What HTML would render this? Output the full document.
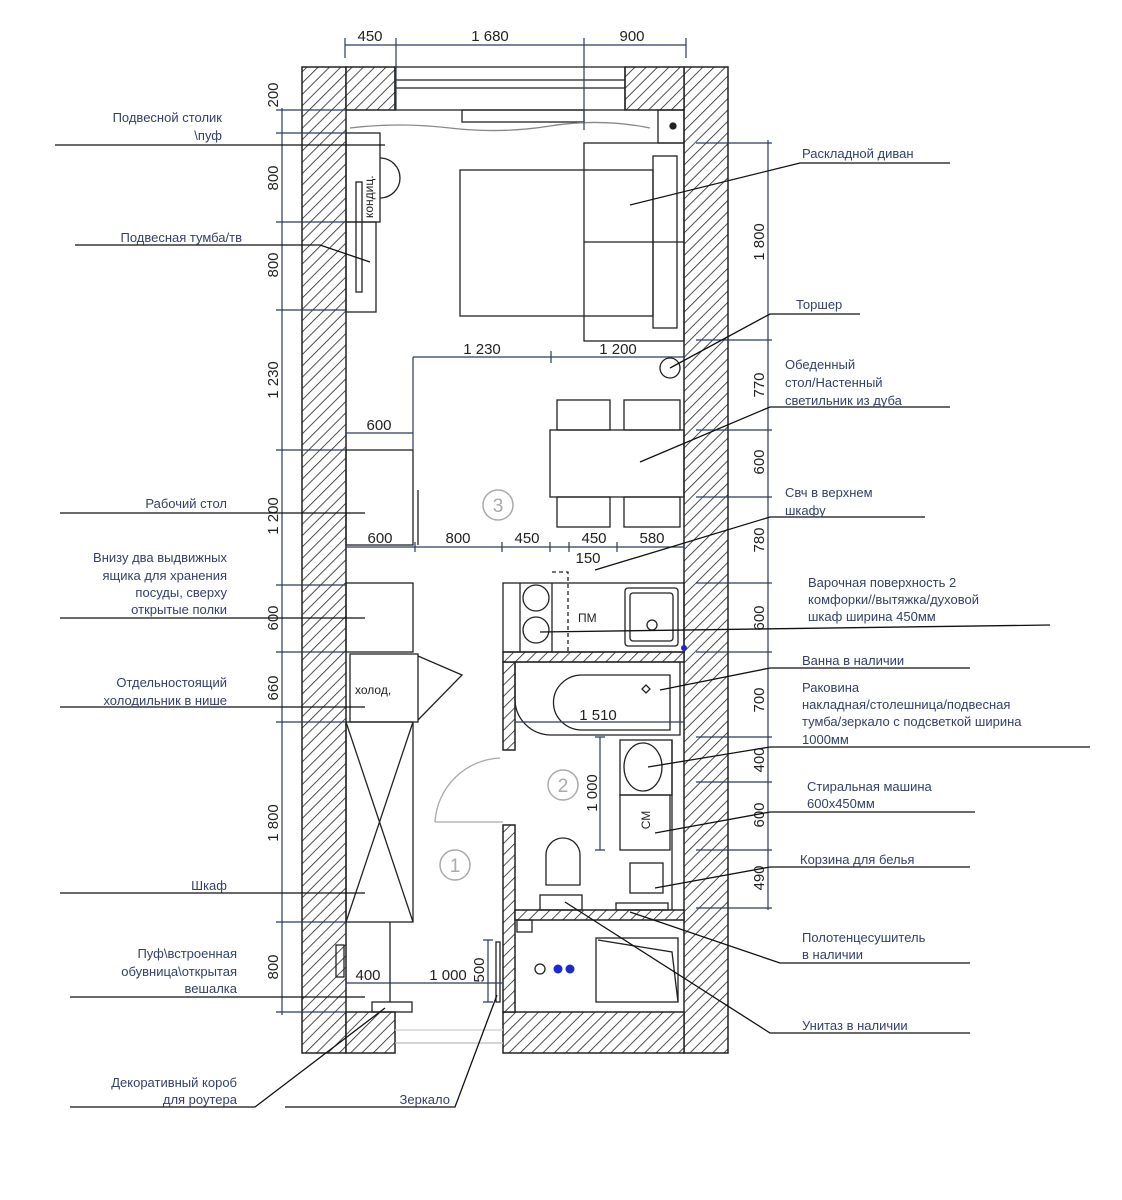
<!DOCTYPE html>
<html><head><meta charset="utf-8"><style>
html,body{margin:0;padding:0;background:#fff}
svg{display:block}
text{font-family:"Liberation Sans",sans-serif}
.l{font-size:13px;fill:#34406a}
.d{font-size:15px;fill:#222}
</style></head><body>
<svg width="1122" height="1200" viewBox="0 0 1122 1200" xmlns="http://www.w3.org/2000/svg">
<defs>
<pattern id="h" width="8" height="8" patternUnits="userSpaceOnUse" patternTransform="rotate(45)">
<rect width="8" height="8" fill="#fff"/><line x1="0" y1="0" x2="0" y2="8" stroke="#222" stroke-width="1.6"/>
</pattern>
</defs>
<g stroke="#222" stroke-width="1.5" fill="url(#h)">
<rect x="302" y="67" width="44" height="986"/>
<rect x="684" y="67" width="44" height="986"/>
<rect x="346" y="67" width="49" height="43"/>
<rect x="625" y="67" width="59" height="43"/>
<rect x="346" y="1012" width="49" height="41"/>
<rect x="503" y="1012" width="181" height="41"/>
<rect x="503" y="825" width="12" height="187"/>
<rect x="503" y="662" width="12" height="88"/>
<rect x="503" y="652" width="181" height="10"/>
<rect x="515" y="910" width="169" height="10"/>
</g>
<g stroke="#222" stroke-width="1.3" fill="none">
<rect x="395" y="67" width="230" height="43"/>
<line x1="395" y1="80" x2="625" y2="80"/><line x1="395" y1="88" x2="625" y2="88"/>
<rect x="462" y="110" width="122" height="12"/>
<path d="M350 128 Q400 122 450 128 T550 126 T650 128" stroke="#888"/>
<rect x="658" y="110" width="26" height="33"/><circle cx="673" cy="126" r="3" fill="#222"/>
<line x1="395" y1="1043" x2="503" y2="1043" stroke="#bbb"/>
<line x1="395" y1="1030" x2="503" y2="1030" stroke="#ccc"/>
<rect x="584" y="143" width="100" height="198"/>
<rect x="653" y="156" width="24" height="172"/>
<line x1="584" y1="242" x2="684" y2="242"/>
<rect x="460" y="170" width="193" height="146"/>
<rect x="346" y="133" width="34" height="89"/>
<path d="M380 158 A20 20 0 0 1 380 198"/>
<rect x="346" y="222" width="30" height="90"/>
<rect x="356" y="182" width="6" height="110"/>
<text x="373" y="218" transform="rotate(-90 373 218)" style="font-size:12px;fill:#222;stroke:none">кондиц.</text>
<circle cx="670" cy="368" r="10"/>
<rect x="550" y="430" width="134" height="67"/>
<rect x="557" y="400" width="53" height="30"/><rect x="624" y="400" width="56" height="30"/>
<rect x="557" y="497" width="53" height="30"/><rect x="624" y="497" width="56" height="30"/>
<rect x="346" y="450" width="67" height="95"/>
<line x1="418" y1="490" x2="418" y2="545"/>
<rect x="346" y="583" width="67" height="69"/>
<rect x="350" y="654" width="68" height="68"/>
<text x="355" y="694" style="font-size:12px;fill:#222;stroke:none">холод,</text>
<path d="M418 656 L462 675 L418 720"/>
<rect x="346" y="722" width="67" height="200"/>
<path d="M346 722 L413 922 M413 722 L346 922"/>
<line x1="390" y1="922" x2="390" y2="1002"/>
<rect x="336" y="945" width="8" height="32"/>
<rect x="372" y="1002" width="40" height="10"/>
<rect x="503" y="583" width="181" height="69"/>
<line x1="520" y1="583" x2="520" y2="652"/><line x1="552" y1="583" x2="552" y2="652"/>
<path d="M552 572 L568 572 L568 652" stroke-dasharray="4 3"/>
<circle cx="536" cy="598" r="13"/><circle cx="536" cy="630" r="13"/>
<text x="578" y="622" style="font-size:12px;fill:#222;stroke:none">ПМ</text>
<rect x="625" y="588" width="53" height="58" rx="3"/><rect x="630" y="593" width="43" height="48" rx="3"/>
<circle cx="652" cy="625" r="5"/>
<circle cx="684" cy="648" r="3" fill="#1a2ad0" stroke="none"/>
<path d="M515 662 L680 662 L680 735 L550 735 A36 36 0 0 1 515 700 Z"/>
<path d="M582 675 L670 675 L670 730 L582 730 A28 27 0 0 1 582 675 Z"/>
<path d="M646 685 l4 4 l-4 4 l-4 -4 Z"/>
<rect x="620" y="740" width="52" height="55"/>
<ellipse cx="643" cy="767" rx="19" ry="24"/>
<rect x="620" y="795" width="50" height="55"/>
<text x="650" y="820" transform="rotate(-90 650 820)" text-anchor="middle" style="font-size:12px;fill:#222;stroke:none">СМ</text>
<line x1="672" y1="740" x2="672" y2="910"/>
<rect x="630" y="863" width="33" height="30"/>
<rect x="616" y="903" width="52" height="7"/>
<path d="M546 885 L546 855 A17 17 0 0 1 580 855 L580 885 Z"/>
<rect x="540" y="895" width="42" height="15"/>
<rect x="596" y="938" width="82" height="64"/>
<path d="M598 940 L672 952 L678 1002"/>
<circle cx="540" cy="969" r="5"/>
<circle cx="558" cy="969" r="4.5" fill="#1a2ad0" stroke="none"/><circle cx="570" cy="969" r="4.5" fill="#1a2ad0" stroke="none"/>
<rect x="517" y="920" width="15" height="12"/>
<rect x="496" y="942" width="4" height="60"/>
<path d="M435 822 A68 68 0 0 1 500 758" stroke="#aaa"/>
<line x1="435" y1="822" x2="503" y2="822" stroke="#aaa"/>
</g>
<g stroke="#aaa" stroke-width="1.5" fill="none">
<circle cx="455" cy="865" r="15"/><circle cx="563" cy="785" r="15"/><circle cx="498" cy="505" r="15"/>
</g>
<g font-size="19" fill="#aaa" text-anchor="middle">
<text x="455" y="872">1</text><text x="563" y="792">2</text><text x="498" y="512">3</text>
</g>
<g stroke="#2a3a60" stroke-width="1.2" fill="none">
<line x1="345" y1="45" x2="686" y2="45"/>
<path d="M345 38v20M396 38v72M584 38v92M686 38v20"/>
<line x1="282" y1="108" x2="282" y2="1015"/>
<path d="M276 110h70M276 133h70M276 222h70M276 310h70M276 450h70M276 585h70M276 652h70M276 722h70M276 922h70M276 1012h70"/>
<line x1="768" y1="140" x2="768" y2="910"/>
<path d="M696 143h76M696 340h76M696 430h76M696 497h76M696 583h76M696 652h76M696 737h76M696 782h76M696 850h76M696 908h76"/>
<line x1="413" y1="357" x2="684" y2="357"/><line x1="413" y1="357" x2="413" y2="450"/>
<path d="M551 351v12M684 351v12"/>
<line x1="346" y1="433" x2="413" y2="433"/>
<line x1="346" y1="547" x2="684" y2="547"/>
<path d="M415 542v10M502 542v10M550 542v10M569 542v10M617 542v10M684 542v10"/>
<line x1="515" y1="722" x2="684" y2="722"/>
<line x1="600" y1="737" x2="600" y2="850"/><path d="M595 737h10M595 850h10"/>
<line x1="346" y1="983" x2="503" y2="983"/><path d="M390 978v10"/>
<line x1="488" y1="940" x2="488" y2="1002"/><path d="M483 940h10M483 1002h10"/>
</g>
<g class="d">
<text x="370" y="41" text-anchor="middle">450</text>
<text x="490" y="41" text-anchor="middle">1 680</text>
<text x="632" y="41" text-anchor="middle">900</text>
<text x="482" y="354" text-anchor="middle">1 230</text>
<text x="618" y="354" text-anchor="middle">1 200</text>
<text x="379" y="430" text-anchor="middle">600</text>
<text x="380" y="543" text-anchor="middle">600</text>
<text x="458" y="543" text-anchor="middle">800</text>
<text x="527" y="543" text-anchor="middle">450</text>
<text x="594" y="543" text-anchor="middle">450</text>
<text x="652" y="543" text-anchor="middle">580</text>
<text x="588" y="563" text-anchor="middle">150</text>
<text x="598" y="720" text-anchor="middle">1 510</text>
<text x="368" y="980" text-anchor="middle">400</text>
<text x="448" y="980" text-anchor="middle">1 000</text>
<g text-anchor="middle">
<text transform="translate(278 95) rotate(-90)">200</text>
<text transform="translate(278 178) rotate(-90)">800</text>
<text transform="translate(278 265) rotate(-90)">800</text>
<text transform="translate(278 380) rotate(-90)">1 230</text>
<text transform="translate(278 516) rotate(-90)">1 200</text>
<text transform="translate(278 618) rotate(-90)">600</text>
<text transform="translate(278 688) rotate(-90)">660</text>
<text transform="translate(278 823) rotate(-90)">1 800</text>
<text transform="translate(278 967) rotate(-90)">800</text>
<text transform="translate(764 242) rotate(-90)">1 800</text>
<text transform="translate(764 385) rotate(-90)">770</text>
<text transform="translate(764 462) rotate(-90)">600</text>
<text transform="translate(764 540) rotate(-90)">780</text>
<text transform="translate(764 618) rotate(-90)">600</text>
<text transform="translate(764 700) rotate(-90)">700</text>
<text transform="translate(764 760) rotate(-90)">400</text>
<text transform="translate(764 815) rotate(-90)">600</text>
<text transform="translate(764 878) rotate(-90)">490</text>
<text transform="translate(597 793) rotate(-90)">1 000</text>
<text transform="translate(484 970) rotate(-90)">500</text>
</g>
</g>
<g stroke="#111" stroke-width="1.3" fill="none">
<path d="M55 145H385"/>
<path d="M75 245H320L370 262"/>
<path d="M60 513H365"/>
<path d="M60 618H365"/>
<path d="M60 707H365"/>
<path d="M60 893H365"/>
<path d="M70 997H365"/>
<path d="M70 1107H255L385 1008"/>
<path d="M285 1107H455L497 995"/>
<path d="M630 205L800 163H950"/>
<path d="M670 368L770 314H860"/>
<path d="M640 462L770 407H950"/>
<path d="M595 570L770 517H925"/>
<path d="M540 632L1050 625"/>
<path d="M660 690L770 668H970"/>
<path d="M648 767L770 747H1090"/>
<path d="M655 833L770 812H975"/>
<path d="M655 888L770 867H970"/>
<path d="M630 912L780 963H970"/>
<path d="M565 902L770 1033H970"/>
</g>
<g class="l" text-anchor="end">
<text x="222" y="122">Подвесной столик</text><text x="222" y="140">\пуф</text>
<text x="242" y="242">Подвесная тумба/тв</text>
<text x="227" y="508">Рабочий стол</text>
<text x="227" y="562">Внизу два выдвижных</text><text x="227" y="580">ящика для хранения</text>
<text x="227" y="597">посуды, сверху</text><text x="227" y="614">открытые полки</text>
<text x="227" y="687">Отдельностоящий</text><text x="227" y="705">холодильник в нише</text>
<text x="227" y="890">Шкаф</text>
<text x="237" y="958">Пуф\встроенная</text><text x="237" y="976">обувница\открытая</text><text x="237" y="993">вешалка</text>
<text x="237" y="1087">Декоративный короб</text><text x="237" y="1104">для роутера</text>
<text x="450" y="1104">Зеркало</text>
</g>
<g class="l">
<text x="802" y="158">Раскладной диван</text>
<text x="796" y="309">Торшер</text>
<text x="785" y="369">Обеденный</text><text x="785" y="387">стол/Настенный</text><text x="785" y="405">светильник из дуба</text>
<text x="785" y="497">Свч в верхнем</text><text x="785" y="515">шкафу</text>
<text x="808" y="587">Варочная поверхность 2</text><text x="808" y="604">комфорки//вытяжка/духовой</text><text x="808" y="621">шкаф ширина 450мм</text>
<text x="802" y="665">Ванна в наличии</text>
<text x="802" y="692">Раковина</text><text x="802" y="709">накладная/столешница/подвесная</text>
<text x="802" y="726">тумба/зеркало с подсветкой ширина</text><text x="802" y="744">1000мм</text>
<text x="807" y="791">Стиральная машина</text><text x="807" y="808">600x450мм</text>
<text x="800" y="864">Корзина для белья</text>
<text x="802" y="942">Полотенцесушитель</text><text x="802" y="959">в наличии</text>
<text x="802" y="1030">Унитаз  в наличии</text>
</g>
</svg>
</body></html>
